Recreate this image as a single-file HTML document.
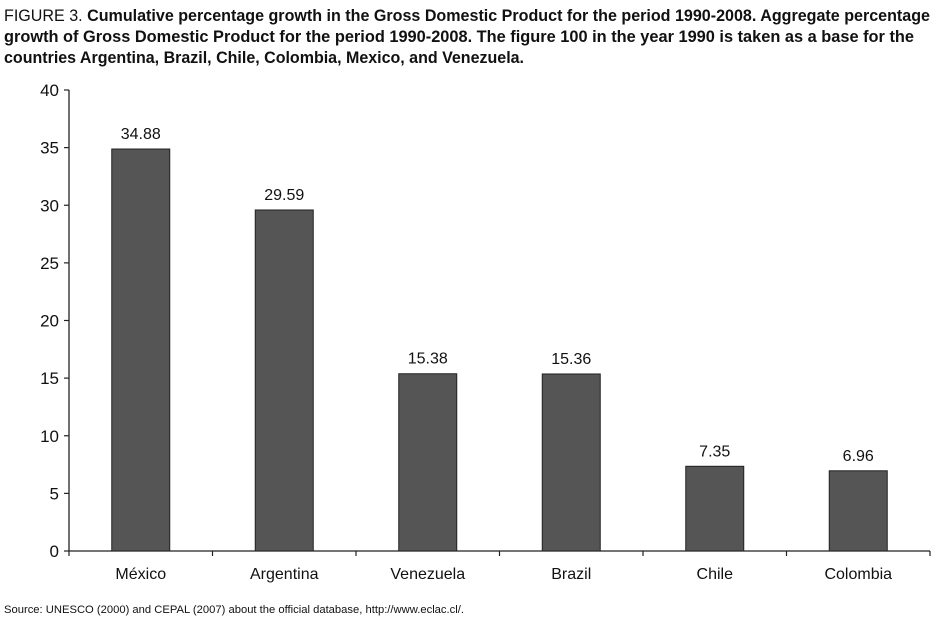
<!DOCTYPE html>
<html><head><meta charset="utf-8"><style>
body{margin:0;background:#fff;}
svg{display:block;font-family:"Liberation Sans",sans-serif;}
</style></head><body>
<svg id="chart" width="938" height="620" viewBox="0 0 938 620">
<g font-size="17" fill="#111">
<text x="4" y="21" textLength="926" lengthAdjust="spacingAndGlyphs">FIGURE 3. <tspan font-weight="bold">Cumulative percentage growth in the Gross Domestic Product for the period 1990-2008. Aggregate percentage</tspan></text>
<text x="4" y="42" textLength="910" lengthAdjust="spacingAndGlyphs" font-weight="bold">growth of Gross Domestic Product for the period 1990-2008. The figure 100 in the year 1990 is taken as a base for the</text>
<text x="4" y="63" textLength="520" lengthAdjust="spacingAndGlyphs" font-weight="bold">countries Argentina, Brazil, Chile, Colombia, Mexico, and Venezuela.</text>
</g>
<g id="plot"></g>
<text x="4" y="613" font-size="11" fill="#111" textLength="460" lengthAdjust="spacingAndGlyphs">Source: UNESCO (2000) and CEPAL (2007) about the official database, http://www.eclac.cl/.</text>
</svg>
<script>
const categories=["México","Argentina","Venezuela","Brazil","Chile","Colombia"];
const values=[34.88,29.59,15.38,15.36,7.35,6.96];
const valueLabels=["34.88","29.59","15.38","15.36","7.35","6.96"];
const yTicks=[0,5,10,15,20,25,30,35,40];
const NS="http://www.w3.org/2000/svg";
const g=document.getElementById('plot');
const x0=69,x1=930,yBase=551,yTop=90,yMax=40;
const y=v=>yBase-(yBase-yTop)*v/yMax;
const bw=(x1-x0)/categories.length;
const xc=i=>x0+bw*(i+0.5);
function mk(t,a){const e=document.createElementNS(NS,t);for(const k in a)e.setAttribute(k,a[k]);g.appendChild(e);return e;}
let ax=mk('line',{x1:x0,y1:yTop,x2:x0,y2:yBase,stroke:'#222','stroke-width':1.3});


let bx=mk('line',{x1:x0,y1:yBase,x2:x1,y2:yBase,stroke:'#222','stroke-width':1.3});


yTicks.forEach(t=>{
 let l=mk('line',{x1:x0-5,y1:y(t),x2:x0,y2:y(t),stroke:'#222','stroke-width':1.2});
 
 
 let tx=mk('text',{x:x0-10,y:y(t)+6,'text-anchor':'end','font-size':17,fill:'#111'});
 tx.textContent=t;
 
 
});
for(let i=0;i<=categories.length;i++){
 let l=mk('line',{x1:x0+bw*i,y1:yBase,x2:x0+bw*i,y2:yBase+5,stroke:'#222','stroke-width':1.2});
 
 
}
const barW=58;
categories.forEach((c,i)=>{
 let r=mk('rect',{x:xc(i)-barW/2,y:y(values[i]),width:barW,height:yBase-y(values[i]),fill:'#555',stroke:'#222','stroke-width':1});
 
 
 let v=mk('text',{x:xc(i),y:y(values[i])-10,'text-anchor':'middle','font-size':16,fill:'#111'});
 v.textContent=valueLabels[i];
 
 
 let t=mk('text',{x:xc(i),y:579,'text-anchor':'middle','font-size':16,fill:'#111'});
 t.textContent=c;
 
 
});
</script>
</body></html>
